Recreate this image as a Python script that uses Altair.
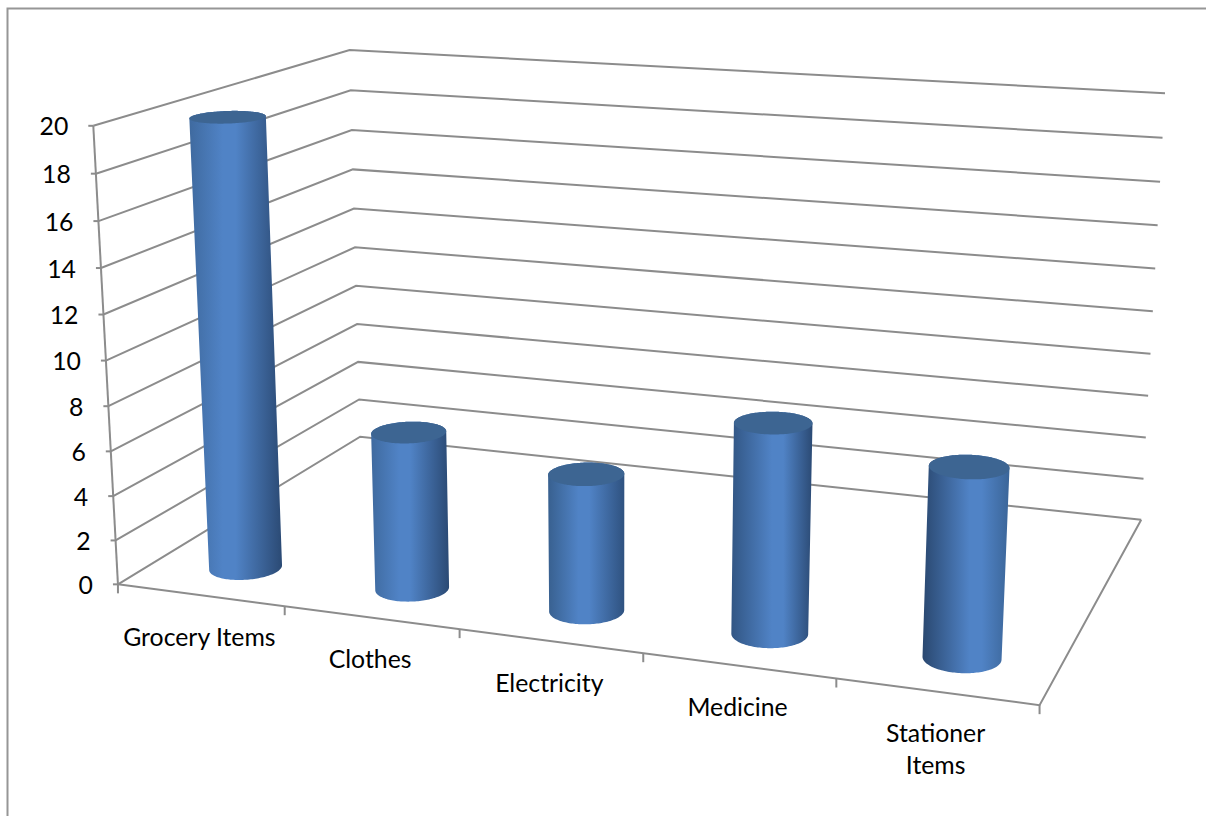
import altair as alt
import numpy as np
import pandas as pd

# Chart values
categories = ["Grocery Items", "Clothes", "Electricity", "Medicine", "Stationer\nItems"]
amounts = [20, 7, 6, 9, 8]
value_ticks = [0, 2, 4, 6, 8, 10, 12, 14, 16, 18, 20]
VALUE_MAX = 20

# Box corners (u along categories, v up, w into the page) and where they land on the canvas
box_corners = [
    ((0, 0, 0), (118, 584)), ((0, 1, 0), (93, 126)),
    ((0, 0, 1), (360, 437)), ((0, 1, 1), (350, 50)),
    ((1, 0, 1), (1141, 520)), ((1, 1, 1), (1165, 93)),
    ((1, 0, 0), (1040, 705)), ((1, 1, 0), (1063, 190)),
]


def fit_camera(pairs):
    rows = []
    for (u, v, w), (x, y) in pairs:
        rows.append([u, v, w, 1, 0, 0, 0, 0, -x * u, -x * v, -x * w, -x])
        rows.append([0, 0, 0, 0, u, v, w, 1, -y * u, -y * v, -y * w, -y])
    return np.linalg.svd(np.array(rows, float))[2][-1].reshape(3, 4)


CAMERA = fit_camera(box_corners)


def project(u, v, w):
    h = CAMERA @ np.array([u, v, w, 1.0])
    return h[0] / h[2], h[1] / h[2]


# Cylinder footprint in box units
DEPTH_CENTER = 0.16
ROW_SHIFT = 0.003
RADIUS_U = 0.039
RADIUS_W = 0.069
ANGLES = np.linspace(0, 2 * np.pi, 73)[:-1]

GRID = "#8c8c8c"
TEXT_FONT = "Lato"
TEXT_SIZE = 24.8

x_scale = alt.Scale(domain=[0, 1206], range=[0, 1206], nice=False, zero=False)
y_scale = alt.Scale(domain=[0, 816], range=[0, 816], nice=False, zero=False)
X = alt.X("x:Q", scale=x_scale, axis=None)
Y = alt.Y("y:Q", scale=y_scale, axis=None)


def polyline(points, group=0):
    return [{"x": p[0], "y": p[1], "g": group, "o": i} for i, p in enumerate(points)]


def line_layer(rows, color=GRID, width=2):
    return (
        alt.Chart(pd.DataFrame(rows))
        .mark_line(color=color, strokeWidth=width, interpolate="linear")
        .encode(x=X, y=Y, detail="g:N", order="o:Q")
    )


def ellipse(u, v):
    return [
        project(u + RADIUS_U * np.cos(t), v, DEPTH_CENTER + RADIUS_W * np.sin(t))
        for t in ANGLES
    ]


def hull(points):
    pts = sorted(set(points))

    def half(seq):
        out = []
        for p in seq:
            while len(out) > 1 and (
                (out[-1][0] - out[-2][0]) * (p[1] - out[-2][1])
                - (out[-1][1] - out[-2][1]) * (p[0] - out[-2][0])
            ) <= 0:
                out.pop()
            out.append(p)
        return out

    return half(pts)[:-1] + half(pts[::-1])[:-1]


def spans(points):
    """Left and right edge of a convex outline for every height it covers."""
    outline = hull(points)
    ring = outline + outline[:1]
    ys = sorted({p[1] for p in outline})
    rows = []
    for y in ys:
        hits = []
        for a, b in zip(ring[:-1], ring[1:]):
            lo, hi = min(a[1], b[1]), max(a[1], b[1])
            if lo <= y <= hi:
                if hi == lo:
                    hits += [a[0], b[0]]
                else:
                    hits.append(a[0] + (y - a[1]) / (b[1] - a[1]) * (b[0] - a[0]))
        rows.append({"y": y, "x": min(hits), "x2": max(hits)})
    return pd.DataFrame(rows)


def solid(rows, paint):
    return (
        alt.Chart(rows)
        .mark_area(orient="horizontal", color=paint, strokeWidth=0)
        .encode(y=Y, x=alt.X("x:Q", scale=x_scale, axis=None), x2="x2:Q")
    )


def shading(left, light_at, right):
    stops = [
        alt.GradientStop(color=left, offset=0),
        alt.GradientStop(color="#5083c6", offset=light_at - 0.08),
        alt.GradientStop(color="#5083c6", offset=light_at + 0.06),
        alt.GradientStop(color=right, offset=1),
    ]
    return alt.LinearGradient(gradient="linear", x1=0, x2=1, y1=0, y2=0, stops=stops)


# Light falls differently across the row, so each cylinder has its own shading
shades = [
    ("#3f6a9f", 0.44, "#2b4a74"),
    ("#3f6a9f", 0.44, "#2b4a74"),
    ("#38608f", 0.48, "#2f5280"),
    ("#325684", 0.58, "#2b4a74"),
    ("#2a4870", 0.62, "#3b6598"),
]

layers = []

# Outer frame
layers.append(line_layer(
    polyline([(7.5, 816), (7.5, 8.5), (1206, 8.5)]), color="#969696", width=2
))

# Gridlines wrapping the side and back walls
grid_rows = []
for g, tick in enumerate(value_ticks):
    v = tick / VALUE_MAX
    grid_rows += polyline([project(0, v, 0), project(0, v, 1), project(1, v, 1)], g)
layers.append(line_layer(grid_rows))

# Front and right floor edges, vertical axis
frame_rows = polyline([project(0, 0, 0), project(1, 0, 0), project(1, 0, 1)], 100)
frame_rows += polyline([project(0, 0, 0), project(0, 1, 0)], 101)
# Value ticks
for g, tick in enumerate(value_ticks):
    x, y = project(0, tick / VALUE_MAX, 0)
    frame_rows += polyline([(x - 5, y), (x, y)], 200 + g)
# Category ticks
for g in range(len(categories) + 1):
    x, y = project(g / len(categories), 0, 0)
    frame_rows += polyline([(x, y), (x, y + 9)], 300 + g)
layers.append(line_layer(frame_rows))

# Cylinders
for i, amount in enumerate(amounts):
    u = (i + 0.5) / len(categories) + ROW_SHIFT
    v = amount / VALUE_MAX
    base = ellipse(u, 0)
    cap = ellipse(u, v)
    layers.append(solid(spans(base + cap), shading(*shades[i])))
    layers.append(solid(spans(cap), "#3d6592"))

# Value labels
value_rows = []
for tick in value_ticks:
    x, y = project(0, tick / VALUE_MAX, 0)
    value_rows.append({"x": x - 25, "y": y + 2.5, "t": str(tick)})
layers.append(
    alt.Chart(pd.DataFrame(value_rows))
    .mark_text(font=TEXT_FONT, fontSize=TEXT_SIZE, align="right", baseline="middle", color="#000000")
    .encode(x=X, y=Y, text="t:N")
)

# Category labels
category_rows = []
for i, name in enumerate(categories):
    x, y = project((i + 0.5) / len(categories), 0, 0)
    category_rows.append({"x": x - 1, "y": y + 30.5, "t": name})
layers.append(
    alt.Chart(pd.DataFrame(category_rows))
    .mark_text(font=TEXT_FONT, fontSize=TEXT_SIZE, align="center", baseline="top",
               lineBreak="\n", lineHeight=32, color="#000000")
    .encode(x=X, y=Y, text="t:N")
)

chart = (
    alt.layer(*layers)
    .properties(width=1206, height=816, padding=0, autosize=alt.AutoSizeParams(type="none"), background="#ffffff")
    .configure_view(stroke=None)
)

chart.save("out.html", embed_options={"renderer": "svg", "actions": False})
